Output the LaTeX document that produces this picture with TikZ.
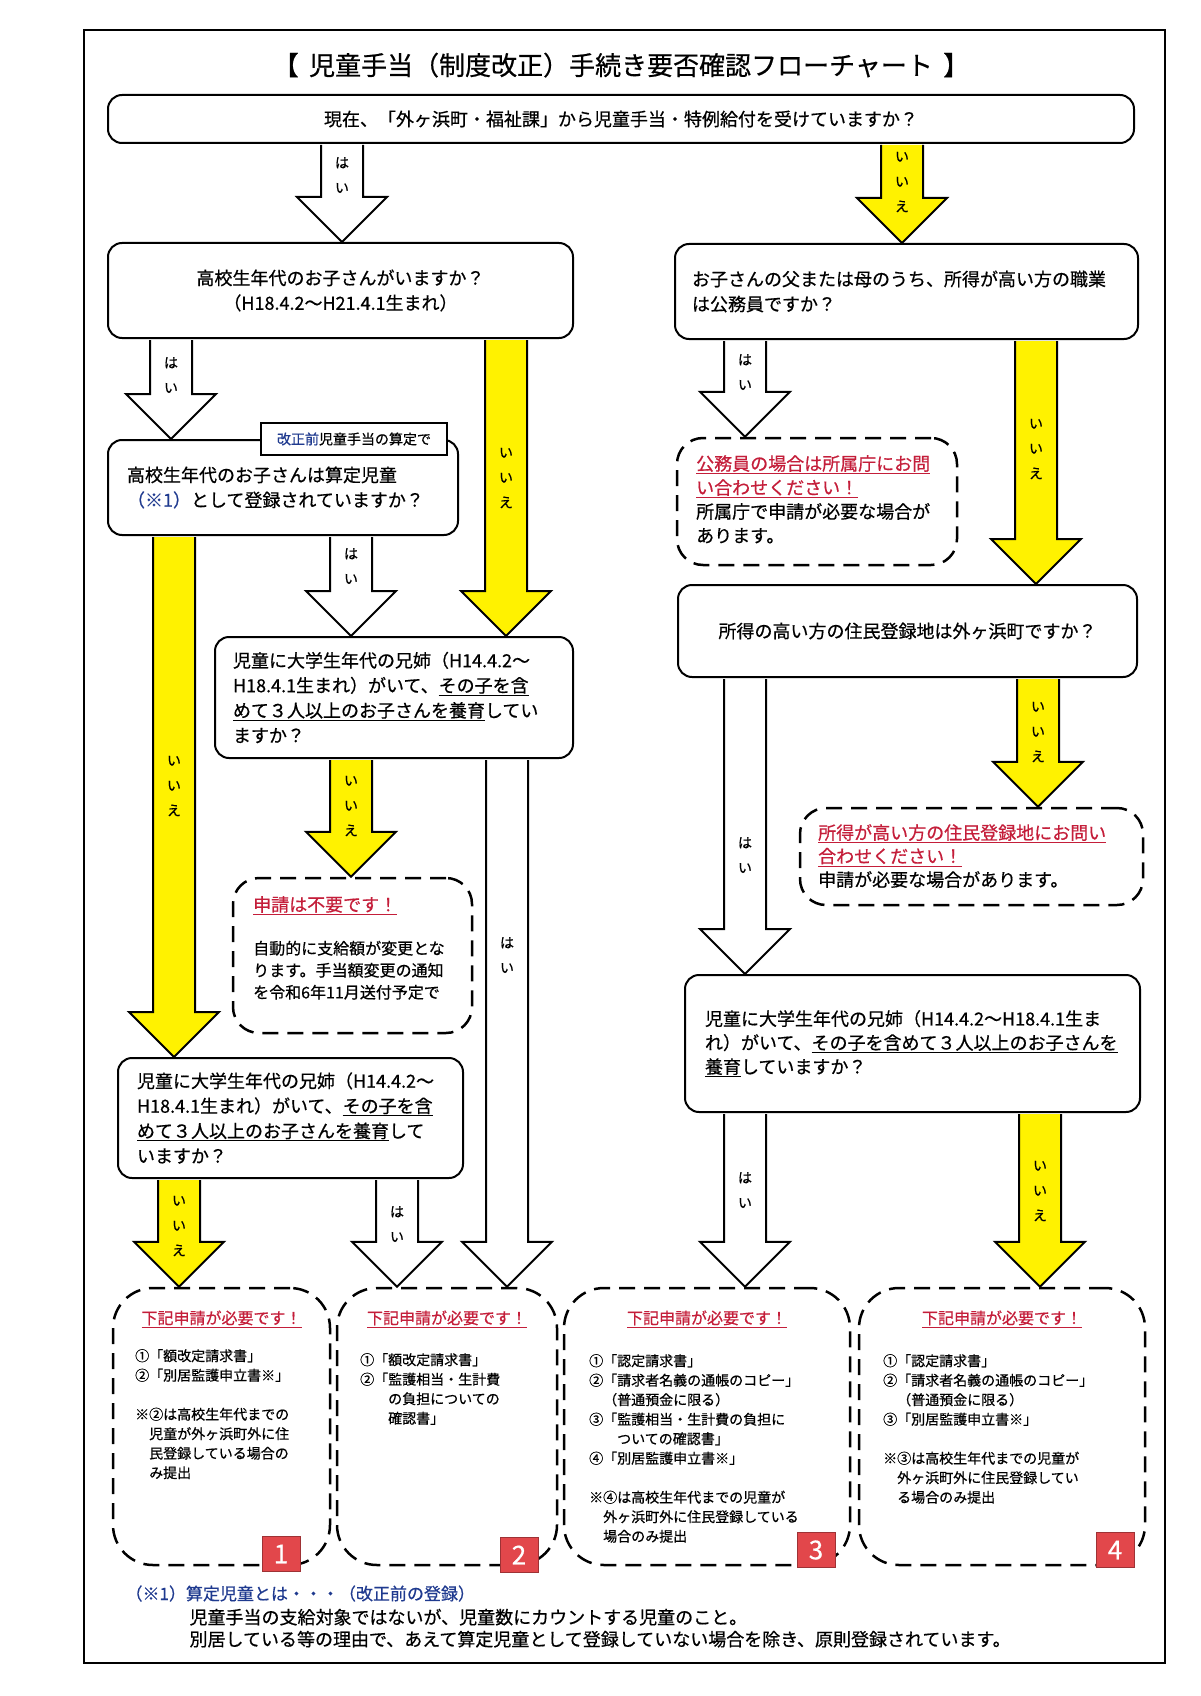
\documentclass[tikz,border=0pt]{standalone}
\usepackage{fontspec}
\setmainfont{Noto Sans CJK JP}[FakeBold=0.6]
\usetikzlibrary{calc}

\definecolor{textred}{HTML}{C41E3A}
\definecolor{textblue}{HTML}{1F3A8F}
\definecolor{badgered}{HTML}{E2474B}

\newcommand{\akasen}[1]{\textcolor{textred}{\underline{#1}}}

\tikzset{
  qbox/.style={draw, line width=2pt, rounded corners=14pt, fill=white, inner ysep=0pt, font=\fontsize{18}{25}\selectfont},
  notebox/.style={draw, line width=2.5pt, dash pattern=on 16pt off 9pt, rounded corners=26pt},
  endbox/.style={draw, line width=2.5pt, dash pattern=on 16pt off 9pt, rounded corners=40pt},
  txt/.style={inner sep=0pt, align=left, anchor=north west},
  yajirushi/.style={draw=black, line width=2pt, line join=miter},
  kotae/.style={inner sep=0pt, align=center, font=\fontsize{14}{25}\selectfont},
  badge/.style={fill=badgered, draw=badgered!70!black, line width=1pt, minimum width=38pt, minimum height=35pt, inner sep=0pt, text=white, font=\fontsize{26}{26}\selectfont},
}

\begin{document}
\begin{tikzpicture}[x=1pt,y=-1pt]
    \useasboundingbox (0,0) rectangle (1200,1696);
    % 外枠とタイトル
    \draw[line width=2.5pt] (84,30) rectangle (1165,1663);
    \node[anchor=base, font=\fontsize{26}{26}\selectfont] (title) at (621,75) {【\hspace{0.4em}児童手当（制度改正）手続き要否確認フローチャート\hspace{0.4em}】};

    % 質問の枠
    \node[qbox, minimum width=1026pt, minimum height=48pt] (q0) at (621,119) {現在、「外ヶ浜町・福祉課」から児童手当・特例給付を受けていますか？};
    \node[qbox, minimum width=465pt, minimum height=95pt, align=center] (q1) at (340.5,290.5) {高校生年代のお子さんがいますか？\\（H18.4.2～H21.4.1生まれ）};
    \node[qbox, text width=429pt, inner xsep=17pt, minimum height=95pt, align=left] (q2) at (906.5,291.5) {お子さんの父または母のうち、所得が高い方の職業\\は公務員ですか？};
    \node[qbox, text width=312pt, inner xsep=19pt, minimum height=95pt, align=left] (q1a) at (283,487.5) {高校生年代のお子さんは算定児童\\{\color{textblue}（※1）}として登録されていますか？};
    \node[draw, line width=1.5pt, fill=white, minimum width=186pt, minimum height=32pt, font=\fontsize{14}{14}\selectfont] (kaisei) at (354,439) {{\color{textblue}改正前}児童手当の算定で};
    \node[qbox, text width=322pt, inner xsep=18pt, minimum height=121pt, align=left] (q3) at (394,697.5) {児童に大学生年代の兄姉（H14.4.2～\\H18.4.1生まれ）がいて、\underline{その子を含}\\\underline{めて３人以上のお子さんを養育}してい\\ますか？};
    \node[qbox, text width=307pt, inner xsep=19pt, minimum height=120pt, align=left] (q1b) at (290.5,1118) {児童に大学生年代の兄姉（H14.4.2～\\H18.4.1生まれ）がいて、\underline{その子を含}\\\underline{めて３人以上のお子さんを養育}して\\いますか？};
    \node[qbox, minimum width=459pt, minimum height=92pt, align=center] (q4) at (907.5,631) {所得の高い方の住民登録地は外ヶ浜町ですか？};
    \node[qbox, text width=415pt, inner xsep=20pt, minimum height=137pt, align=left, font=\fontsize{18}{24}\selectfont] (q5) at (912.5,1043.5) {児童に大学生年代の兄姉（H14.4.2～H18.4.1生ま\\れ）がいて、\underline{その子を含めて３人以上のお子さんを}\\\underline{養育}していますか？};

    % 注意の枠（破線）
    \node[notebox, minimum width=239pt, minimum height=155pt] (n1) at (352.5,955.5) {};
    \node[txt, font=\fontsize{16}{22}\selectfont] (n1t) at (253,896) {{\fontsize{18}{22}\selectfont\akasen{申請は不要です！}}\\[21pt]自動的に支給額が変更とな\\ります。手当額変更の通知\\を令和6年11月送付予定で};
    \node[notebox, minimum width=280pt, minimum height=127pt] (n2) at (817,501.5) {};
    \node[txt, font=\fontsize{18}{24}\selectfont] (n2t) at (696,455) {\akasen{公務員の場合は所属庁にお問}\\\akasen{い合わせください！}\\所属庁で申請が必要な場合が\\あります。};
    \node[notebox, minimum width=343pt, minimum height=97pt] (n3) at (971.5,856.5) {};
    \node[txt, font=\fontsize{18}{23.5}\selectfont] (n3t) at (818,824) {\akasen{所得が高い方の住民登録地にお問い}\\\akasen{合わせください！}\\申請が必要な場合があります。};

    % 申請が必要な場合の枠
    \node[endbox, minimum width=217pt, minimum height=277pt] (e1) at (221.5,1426.5) {};
    \node[endbox, minimum width=220pt, minimum height=277pt] (e2) at (447,1426.5) {};
    \node[endbox, minimum width=286pt, minimum height=277pt] (e3) at (707,1426.5) {};
    \node[endbox, minimum width=286pt, minimum height=277pt] (e4) at (1002,1426.5) {};
    \foreach \e in {e1,e2,e3,e4}
        \node[anchor=base, font=\fontsize{16}{16}\selectfont] (\e h) at (\e.center |- 0,1324) {\akasen{下記申請が必要です！}};

    \node[txt, font=\fontsize{14}{19.5}\selectfont] (e1t) at (135,1349) {①「額改定請求書」\\②「別居監護申立書※」\\[19.5pt]※②は高校生年代までの\\\hspace*{1em}児童が外ヶ浜町外に住\\\hspace*{1em}民登録している場合の\\\hspace*{1em}み提出};
    \node[txt, font=\fontsize{14}{19.5}\selectfont] (e2t) at (360,1353) {①「額改定請求書」\\②「監護相当・生計費\\\hspace*{2em}の負担についての\\\hspace*{2em}確認書」};
    \node[txt, font=\fontsize{14}{19.5}\selectfont] (e3t) at (589,1354) {①「認定請求書」\\②「請求者名義の通帳のコピー」\\\hspace*{1em}（普通預金に限る）\\③「監護相当・生計費の負担に\\\hspace*{2em}ついての確認書」\\④「別居監護申立書※」\\[19.5pt]※④は高校生年代までの児童が\\\hspace*{1em}外ヶ浜町外に住民登録している\\\hspace*{1em}場合のみ提出};
    \node[txt, font=\fontsize{14}{19.5}\selectfont] (e4t) at (883,1354) {①「認定請求書」\\②「請求者名義の通帳のコピー」\\\hspace*{1em}（普通預金に限る）\\③「別居監護申立書※」\\[19.5pt]※③は高校生年代までの児童が\\\hspace*{1em}外ヶ浜町外に住民登録してい\\\hspace*{1em}る場合のみ提出};

    \node[badge] (b1) at (281,1554) {1};
    \node[badge] (b2) at (519,1555) {2};
    \node[badge] (b3) at (816,1550) {3};
    \node[badge] (b4) at (1115,1550) {4};

    % 矢印（はい＝白、いいえ＝黄）
    \foreach \iro/\x/\a/\b/\ly/\moji in {
        white/342/q0/q1/175/{は\\い},
        yellow/902/q0/q2/182/{い\\い\\え},
        white/171/q1/q1a/375/{は\\い},
        yellow/506/q1/q3/478/{い\\い\\え},
        white/351/q1a/q3/566/{は\\い},
        yellow/174/q1a/q1b/786/{い\\い\\え},
        yellow/351/q3/n1/806/{い\\い\\え},
        white/507/q3/e2/955/{は\\い},
        yellow/179/q1b/e1/1226/{い\\い\\え},
        white/397/q1b/e2/1224/{は\\い},
        white/745/q2/n2/372/{は\\い},
        yellow/1036/q2/q4/449/{い\\い\\え},
        yellow/1038/q4/n3/732/{い\\い\\え},
        white/745/q4/q5/855/{は\\い},
        white/745/q5/e3/1190/{は\\い},
        yellow/1040/q5/e4/1191/{い\\い\\え}}{
        \path (\x,0 |- \a.south) coordinate (s) (\x,0 |- \b.north) coordinate (e);
        \filldraw[yajirushi, fill=\iro] ($(s)+(-21,1)$) -- ($(e)+(-21,-45)$) -- ($(e)+(-45,-45)$) -- (e) -- ($(e)+(45,-45)$) -- ($(e)+(21,-45)$) -- ($(s)+(21,1)$);
        \node[kotae] (k\a\b) at (\x,\ly) {\moji};
    }

    % 注記
    \node[anchor=base west, font=\fontsize{17}{17}\selectfont, text=textblue] (chu1) at (122,1600) {（※1）算定児童とは・・・（改正前の登録）};
    \node[anchor=base west, font=\fontsize{18}{18}\selectfont] (chu2) at (186,1624) {児童手当の支給対象ではないが、児童数にカウントする児童のこと。};
    \node[anchor=base west, font=\fontsize{18}{18}\selectfont] (chu3) at (186,1646) {別居している等の理由で、あえて算定児童として登録していない場合を除き、原則登録されています。};
\end{tikzpicture}
\end{document}
